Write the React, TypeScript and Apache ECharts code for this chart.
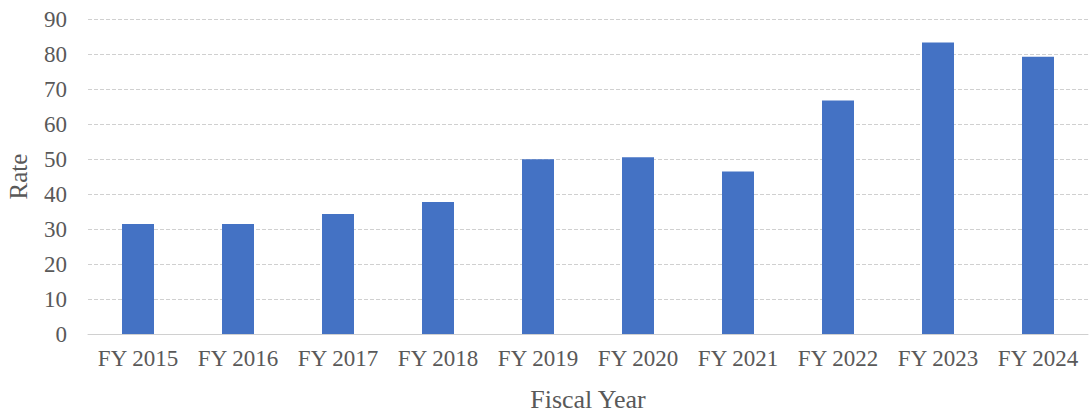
import React, { useEffect, useRef } from "react";
import * as echarts from "echarts";

const categories = ["FY 2015", "FY 2016", "FY 2017", "FY 2018", "FY 2019", "FY 2020", "FY 2021", "FY 2022", "FY 2023", "FY 2024"];
const rates = [31.4, 31.4, 34.3, 37.7, 49.9, 50.5, 46.4, 66.7, 83.3, 79.2];
const yTicks = { min: 0, max: 90, interval: 10 };

const FONT = "'Liberation Serif', 'Times New Roman', serif";
const TEXT = "#595959";

export default function App() {
  const ref = useRef<HTMLDivElement>(null);
  useEffect(() => {
    document.body.style.margin = "0";
    if (!ref.current) return;
    const chart = echarts.init(ref.current, undefined, { renderer: "svg" });
    chart.setOption({
      animation: false,
      backgroundColor: "#ffffff",
      grid: { left: 88, right: 1, top: 19, bottom: 81, containLabel: false, outerBoundsMode: "none" },
      xAxis: {
        type: "category",
        data: categories,
        name: "Fiscal Year",
        nameLocation: "middle",
        nameGap: 52,
        nameTextStyle: { fontFamily: FONT, fontSize: 26, color: TEXT },
        axisLine: { show: true, lineStyle: { color: "#d0d0d0", width: 1 } },
        axisTick: { show: false },
        axisLabel: { fontFamily: FONT, fontSize: 23, color: TEXT, margin: 13, interval: 0, hideOverlap: false },
      },
      yAxis: {
        type: "value",
        min: yTicks.min,
        max: yTicks.max,
        interval: yTicks.interval,
        name: "Rate",
        nameLocation: "middle",
        nameGap: 57,
        nameTextStyle: { fontFamily: FONT, fontSize: 25, color: TEXT },
        axisLine: { show: false },
        axisTick: { show: false },
        axisLabel: { fontFamily: FONT, fontSize: 23, color: TEXT, margin: 21 },
        splitLine: { show: true, lineStyle: { color: "#d0d0d0", width: 1, type: "dashed" } },
      },
      series: [
        {
          type: "bar",
          data: rates,
          barWidth: "32%",
          itemStyle: { color: "#4472c4" },
        },
      ],
    });
    return () => chart.dispose();
  }, []);
  return <div ref={ref} style={{ width: 1089, height: 415, position: "relative" }} />;
}
